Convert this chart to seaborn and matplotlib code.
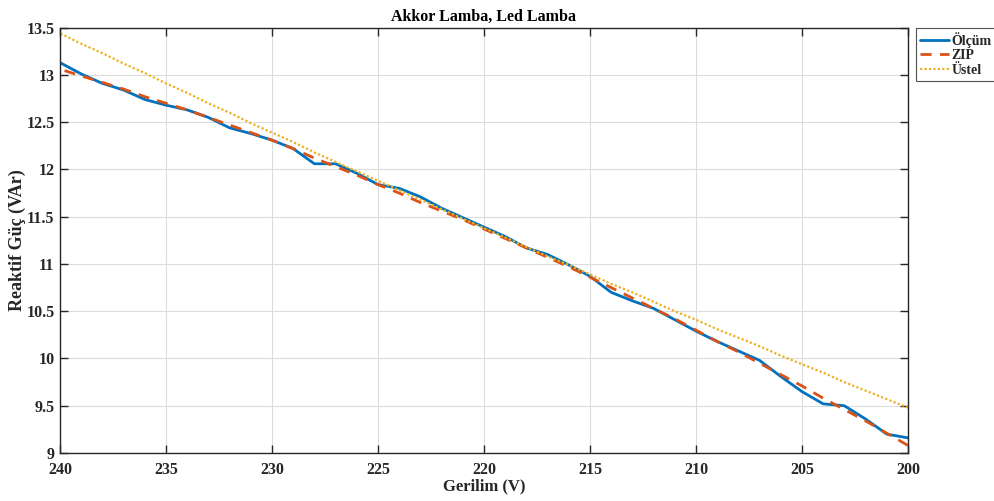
import matplotlib
matplotlib.use("Agg")
import matplotlib.pyplot as plt
import seaborn as sns
import pandas as pd

# Voltage sweep (V), high to low
voltage = [240, 239, 238, 237, 236, 235, 234, 233, 232, 231, 230,
           229, 228, 227, 226, 225, 224, 223, 222, 221, 220,
           219, 218, 217, 216, 215, 214, 213, 212, 211, 210,
           209, 208, 207, 206, 205, 204, 203, 202, 201, 200]

# Measured reactive power (VAr)
olcum = [13.13, 13.01, 12.91, 12.84, 12.74, 12.68, 12.63, 12.55, 12.44, 12.38, 12.31,
         12.22, 12.06, 12.06, 11.96, 11.84, 11.80, 11.71, 11.59, 11.49, 11.39,
         11.29, 11.17, 11.10, 10.99, 10.87, 10.70, 10.61, 10.53, 10.41, 10.29,
         10.18, 10.08, 9.98, 9.81, 9.65, 9.52, 9.50, 9.36, 9.20, 9.16]

# ZIP load model
zip_model = [13.06, 12.99, 12.92, 12.85, 12.77, 12.70, 12.63, 12.55, 12.47, 12.39, 12.31,
             12.22, 12.12, 12.03, 11.94, 11.84, 11.75, 11.65, 11.56, 11.47, 11.37,
             11.27, 11.17, 11.07, 10.97, 10.86, 10.75, 10.64, 10.53, 10.42, 10.30,
             10.18, 10.07, 9.95, 9.83, 9.71, 9.58, 9.46, 9.34, 9.21, 9.08]

# Exponential load model
ustel = [13.44, 13.33, 13.23, 13.12, 13.02, 12.91, 12.81, 12.70, 12.60, 12.49, 12.39,
         12.29, 12.18, 12.08, 11.98, 11.88, 11.78, 11.68, 11.58, 11.48, 11.38,
         11.28, 11.18, 11.08, 10.99, 10.89, 10.79, 10.70, 10.60, 10.50, 10.41,
         10.31, 10.22, 10.13, 10.03, 9.94, 9.85, 9.75, 9.66, 9.57, 9.48]

series_names = ["Ölçüm", "ZIP", "Üstel"]
x_ticks = [240, 235, 230, 225, 220, 215, 210, 205, 200]
y_ticks = [9, 9.5, 10, 10.5, 11, 11.5, 12, 12.5, 13, 13.5]
y_tick_labels = ["9", "9.5", "10", "10.5", "11", "11.5", "12", "12.5", "13", "13.5"]

sns.set_theme(style="white")
plt.rcParams["font.family"] = ["Liberation Serif", "DejaVu Serif"]
plt.rcParams["font.weight"] = "bold"

fig = plt.figure(figsize=(9.94, 5.01), dpi=100)
ax = fig.add_axes([0.0604, 0.0958, 0.853, 0.849])

df = pd.DataFrame({"V": voltage, "Ölçüm": olcum, "ZIP": zip_model, "Üstel": ustel})

styles = {
    "Ölçüm": dict(color="#0072BD", linestyle="-", linewidth=2.0),
    "ZIP": dict(color="#D95319", linestyle=(0, (4, 3)), linewidth=2.0),
    "Üstel": dict(color="#EDB120", linestyle=(0, (1, 1)), linewidth=1.6),
}
for name in series_names:
    sns.lineplot(data=df, x="V", y=name, ax=ax, label=name, **styles[name])

ax.set_xlim(240, 200)
ax.set_ylim(9, 13.5)
ax.set_xticks(x_ticks)
ax.set_xticklabels([str(t) for t in x_ticks])
ax.set_yticks(y_ticks)
ax.set_yticklabels(y_tick_labels)

ax.grid(True, color="#dcdcdc", linewidth=0.8)
for sp in ax.spines.values():
    sp.set_color("#262626")
    sp.set_linewidth(1.0)
ax.tick_params(axis="both", which="both", direction="in", length=6, width=1.0,
               color="#262626", labelsize=11.5, labelcolor="#262626",
               top=True, right=True, bottom=True, left=True, pad=4)
ax.tick_params(axis="x", pad=6.5)
for lab in ax.get_xticklabels() + ax.get_yticklabels():
    lab.set_fontweight("bold")

ax.set_title("Akkor Lamba, Led Lamba", fontsize=11.5, fontweight="bold",
             color="black", pad=5)
ax.set_xlabel("Gerilim (V)", fontsize=12, fontweight="bold", color="#262626", labelpad=0)
ax.set_ylabel("Reaktif Güç (VAr)", fontsize=13, fontweight="bold", color="#262626", labelpad=0)

leg = ax.legend(loc="upper left", bbox_to_anchor=(1.009, 1.0), borderaxespad=0,
                frameon=True, fancybox=False, handlelength=2.1, handletextpad=0.2,
                labelspacing=0.12, borderpad=0.3, prop={"weight": "bold", "size": 10})
leg.get_frame().set_edgecolor("#262626")
leg.get_frame().set_linewidth(0.8)

fig.savefig("out.png", dpi=100)
